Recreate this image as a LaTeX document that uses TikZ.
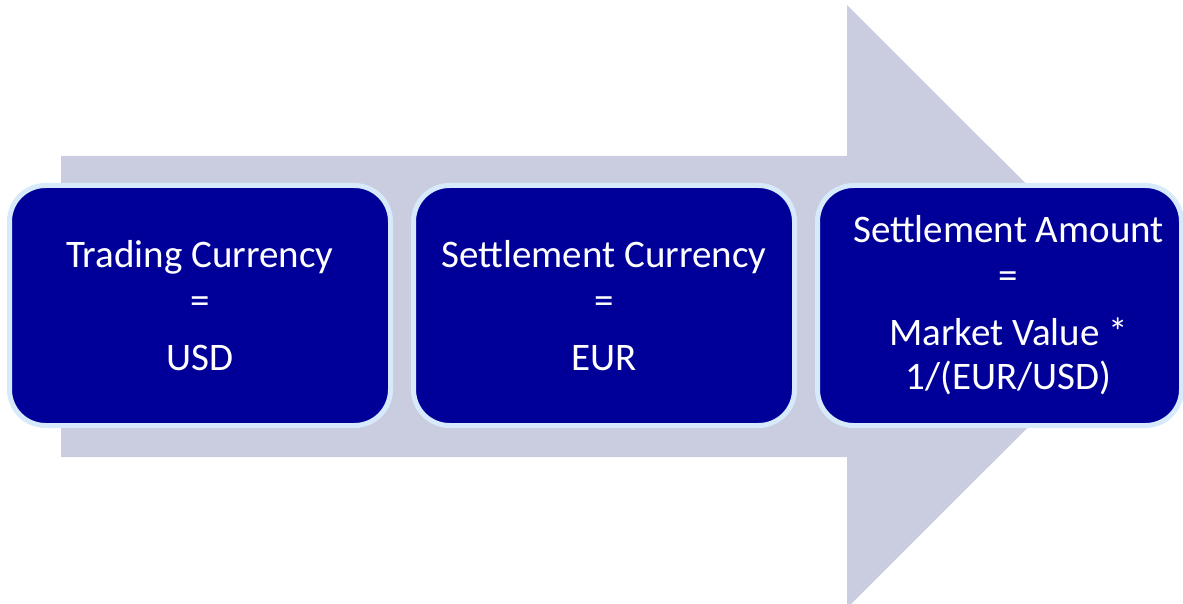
\documentclass[tikz,border=0pt]{standalone}
\usepackage{fontspec}
\setmainfont{Carlito}
\usetikzlibrary{positioning}
\definecolor{arrowgray}{RGB}{202,204,223}
\definecolor{boxblue}{RGB}{0,0,153}
\definecolor{boxrim}{RGB}{214,234,252}
\tikzset{
    stage/.style={draw=boxrim, line width=5pt, fill=boxblue, rounded corners=36pt,
      minimum width=381pt, minimum height=240pt, inner sep=0pt,
      text=white, align=center, font=\fontsize{39}{46}\selectfont},
    stagetext/.style={text=white, align=center, inner sep=0pt, font=\fontsize{39}{46}\selectfont},
    flow/.style={fill=arrowgray}
}

\begin{document}
\begin{tikzpicture}[x=1pt, y=-1pt]
          \useasboundingbox (0,0) rectangle (1183,604);
          % big arrow behind the boxes
          \fill [flow] (61,156) -- (847,156) -- (847,5) -- (1149,306.5)
            -- (847,608) -- (847,457) -- (61,457) -- cycle;
          \node [stage] (trade) at (200,305.5) {Trading Currency\\=\\[11pt]USD};
          \node [stage, right=18pt of trade] (settle) {Settlement Currency\\=\\[11pt]EUR};
          \node [stage, minimum width=364pt, right=18pt of settle] (amount) {};
          % text of the last box sits a bit right of its centre
          \node [stagetext] (amounttext) at ([xshift=9pt]amount.center)
            {Settlement Amount\\=\\[11pt]Market Value *\\[-2pt]1/(EUR/USD)};
      \end{tikzpicture}
\end{document}
